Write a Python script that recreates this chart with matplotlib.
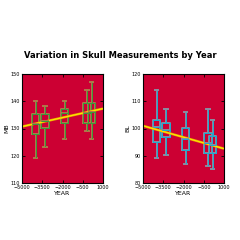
import numpy as np
import matplotlib
matplotlib.use("Agg")
import matplotlib.pyplot as plt

# epochs and box summaries
years = [-4000, -3300, -1850, -200, 150]

# MB: whisker low, q1, median, q3, whisker high
mb_low = [119, 123.2, 126, 129.2, 126]
mb_q1 = [128, 130.1, 132.2, 132.2, 132]
mb_med = [131.5, 132.7, 135.8, 135.8, 136]
mb_q3 = [135.5, 135.3, 137.3, 139.2, 139.3]
mb_high = [140, 138.3, 140.1, 144, 147.1]

# BL
bl_low = [89.1, 90.1, 87, 86.2, 85.3]
bl_q1 = [95.2, 97, 92, 91, 91]
bl_med = [100.5, 99.5, 96.2, 94.5, 94]
bl_q3 = [103.2, 102.2, 100.2, 98.3, 97.1]
bl_high = [114.1, 107.3, 106.2, 107.3, 103.2]

# fitted lines at the x-limits
fit_x = [-5000, 1000]
fit_mb = [130.7, 137.3]
fit_bl = [101, 92.6]

bg = "#CC0033"


def stats(lo, q1, med, q3, hi):
    return [dict(whislo=a, q1=b, med=c, q3=d, whishi=e, fliers=[])
            for a, b, c, d, e in zip(lo, q1, med, q3, hi)]


def panel(ax, st, main, shadow, fit, ylim, yticks, ylabel):
    ax.set_facecolor(bg)
    for col, lw in [(shadow, 1.4), (main, 0.7)]:
        ax.bxp(st, positions=years, widths=550, showfliers=False,
               manage_ticks=False,
               boxprops=dict(color=col, linewidth=lw),
               whiskerprops=dict(color=col, linewidth=lw),
               capprops=dict(color=shadow, linewidth=lw),
               medianprops=dict(color=col, linewidth=lw))
    ax.plot(fit_x, fit, color="#E8A000", linewidth=1.7, solid_capstyle="butt")
    ax.plot(fit_x, fit, color="#FFE600", linewidth=0.8, solid_capstyle="butt")
    ax.set_xlim(-5000, 1000)
    ax.set_ylim(*ylim)
    ax.set_xticks([-5000, -3500, -2000, -500, 1000])
    ax.set_yticks(yticks)
    ax.tick_params(direction="in", length=2, width=0.6, labelsize=3.5,
                   pad=1.5, top=True, right=True)
    ax.set_xlabel("YEAR", fontsize=4.5, labelpad=1)
    ax.set_ylabel(ylabel, fontsize=4.5, labelpad=1)
    for s in ax.spines.values():
        s.set_linewidth(0.8)


fig = plt.figure(figsize=(2.4, 2.4), dpi=100)
ax1 = fig.add_axes([22 / 240, 57 / 240, 81 / 240, 109 / 240])
ax2 = fig.add_axes([143 / 240, 57 / 240, 81 / 240, 109 / 240])

panel(ax1, stats(mb_low, mb_q1, mb_med, mb_q3, mb_high), "#3A9A3A", "#B0784A",
      fit_mb, (110, 150), [110, 120, 130, 140, 150], "MB")
panel(ax2, stats(bl_low, bl_q1, bl_med, bl_q3, bl_high), "#1EA8D0", "#8A8CA0",
      fit_bl, (80, 120), [80, 90, 100, 110, 120], "BL")

fig.text(0.5, 1 - 56 / 240, "Variation in Skull Measurements by Year",
         ha="center", va="center", fontsize=6.0, fontweight="bold")

fig.savefig("out.png", dpi=100, facecolor="white")
